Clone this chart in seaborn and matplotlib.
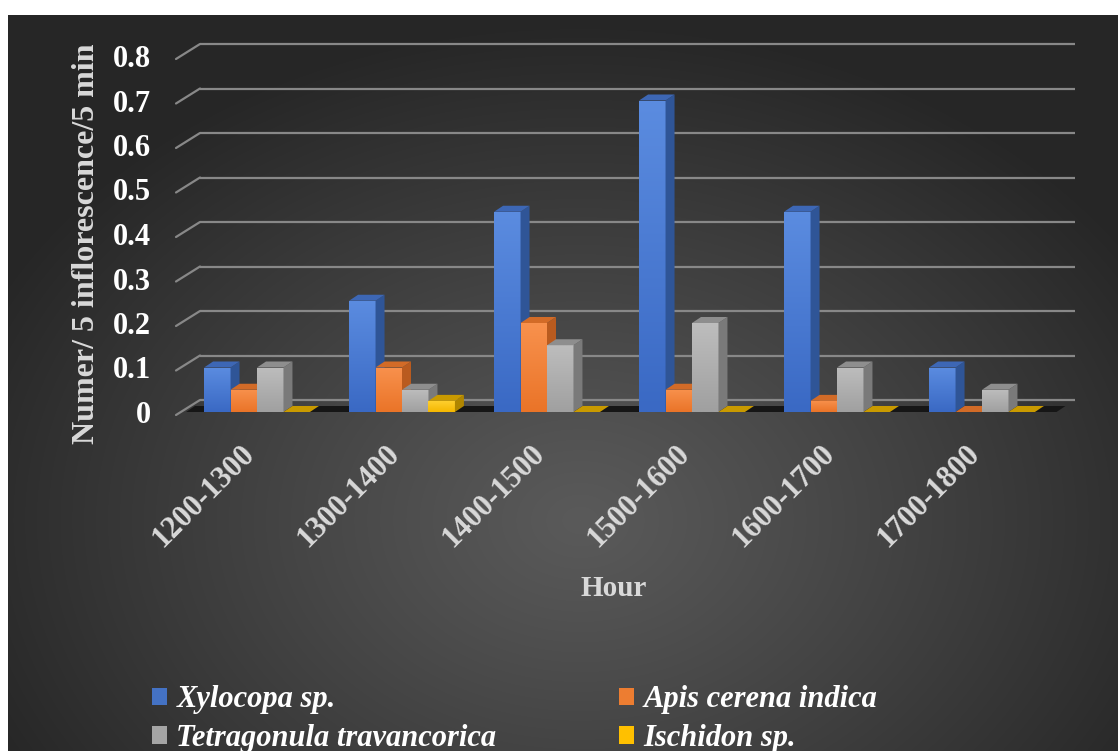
import numpy as np
import pandas as pd
import matplotlib
matplotlib.use("Agg")
import matplotlib.pyplot as plt
import matplotlib.transforms as mtransforms
from matplotlib.patches import Polygon, Patch
from matplotlib.colors import to_rgb
import seaborn as sns

# ---- data -------------------------------------------------------------
hours = ["1200-1300", "1300-1400", "1400-1500", "1500-1600", "1600-1700", "1700-1800"]
species = ["Xylocopa sp.", "Apis cerena indica", "Tetragonula travancorica", "Ischidon sp."]
xylocopa = [0.10, 0.25, 0.45, 0.70, 0.45, 0.10]
apis = [0.05, 0.10, 0.20, 0.05, 0.025, 0.0]
tetragonula = [0.10, 0.05, 0.15, 0.20, 0.10, 0.05]
ischidon = [0.0, 0.025, 0.0, 0.0, 0.0, 0.0]
y_ticks = [0, 0.1, 0.2, 0.3, 0.4, 0.5, 0.6, 0.7, 0.8]
y_tick_labels = ["0", "0.1", "0.2", "0.3", "0.4", "0.5", "0.6", "0.7", "0.8"]

front_colors = ["#4472C4", "#ED7D31", "#A5A5A5", "#FFC000"]
front_tops = ["#5B8CE0", "#F8914D", "#BDBDBD", "#FFD033"]
front_bottoms = ["#3A69C4", "#EA7428", "#A0A0A0", "#F5B800"]
side_colors = ["#2F5597", "#B95B1F", "#7A7A7A", "#B08600"]
top_colors = ["#3D67B5", "#D26B27", "#8E8E8E", "#C99A00"]

df = pd.DataFrame({
    "Hour": np.repeat([hours], 4, axis=0).ravel(),
    "Species": np.repeat(species, len(hours)),
    "Value": np.concatenate([xylocopa, apis, tetragonula, ischidon]),
})

# ---- figure -----------------------------------------------------------
W, H = 1118, 751
fig = plt.figure(figsize=(W / 100, H / 100), dpi=100)
fig.patch.set_facecolor("white")

# dark panel with radial gradient
bg = fig.add_axes([8 / W, 0, 1 - 8 / W, (H - 15) / H])
bg.set_axis_off()
yy, xx = np.mgrid[0:H - 15, 0:W - 8]
cx, cy = 572, 505
r = np.sqrt(((xx - cx) / 660.0) ** 2 + ((yy - cy) / 500.0) ** 2)
r = np.clip(r, 0, 1) ** 1.1
c_in = np.array(to_rgb("#5a5a5a"))
c_out = np.array(to_rgb("#262626"))
img = c_in[None, None, :] * (1 - r[..., None]) + c_out[None, None, :] * r[..., None]
bg.imshow(img, aspect="auto", interpolation="bilinear")

sns.set_style("white")
serif = ["Liberation Serif", "DejaVu Serif"]

ax_left, ax_right = 184.5, 1054.5
ax_bot, ax_top = 412, 56
ax = fig.add_axes([ax_left / W, (H - ax_bot) / H, (ax_right - ax_left) / W, (ax_bot - ax_top) / H])
ax.set_facecolor("none")

sns.barplot(data=df, x="Hour", y="Value", hue="Species", order=hours, hue_order=species,
            palette=dict(zip(species, front_colors)), width=0.73, gap=0, saturation=1,
            errorbar=None, legend=False, linewidth=0, ax=ax)

xlim = (-0.5, len(hours) - 0.5)
ylim = (0, 0.8)
for s in ax.spines.values():
    s.set_visible(False)

# pixel -> data unit conversion for the pseudo-3D offsets
sx = (len(hours)) / (ax_right - ax_left)
sy = 0.8 / (ax_bot - ax_top)

# back wall gridlines and the diagonal wall edges
grid_c = "#888888"
back_dx, back_dy = 15.5, 12
front_dx, front_dy = -8.5, -3
for v in y_ticks:
    ax.plot([-0.5 + back_dx * sx, len(hours) - 0.5 + 20.5 * sx], [v + back_dy * sy] * 2,
            color=grid_c, lw=1.6, zorder=1, clip_on=False, solid_capstyle="butt")
    ax.plot([-0.5 + front_dx * sx, -0.5 + back_dx * sx], [v + front_dy * sy, v + back_dy * sy],
            color=grid_c, lw=1.6, zorder=1, clip_on=False)

# floor
bdx, bdy = 9, 6
x0f, x1f = -0.5 + 1.5 * sx, len(hours) - 0.5 + 2 * sx
floor = Polygon([[x0f, 0], [x1f, 0], [x1f + bdx * sx, bdy * sy], [x0f + bdx * sx, bdy * sy]],
                closed=True, facecolor="#161616", edgecolor="none", zorder=2, clip_on=False)
ax.add_patch(floor)

# bars: depth-aware z-order, shaded front faces, side and top faces
color_idx = {tuple(np.round(to_rgb(c), 3)): i for i, c in enumerate(front_colors)}
bars = [p for p in ax.patches if p is not floor]
bars.sort(key=lambda p: p.get_x())
for k, p in enumerate(bars):
    i = color_idx[tuple(np.round(p.get_facecolor()[:3], 3))]
    x, w, h = p.get_x(), p.get_width(), p.get_height()
    z = 5 + 3 * k
    p.set_zorder(z)
    p.set_clip_on(False)
    if h > 0:
        t = np.linspace(0, 1, 64)[:, None, None]
        grad = np.array(to_rgb(front_tops[i]))[None, None, :] * (1 - t) + \
            np.array(to_rgb(front_bottoms[i]))[None, None, :] * t
        im = ax.imshow(grad, extent=[x, x + w, 0, h], aspect="auto", origin="upper",
                       interpolation="bilinear", zorder=z + 0.5)
        im.set_clip_path(p)
    side = Polygon([[x + w, 0], [x + w, h], [x + w + bdx * sx, h + bdy * sy], [x + w + bdx * sx, bdy * sy]],
                   closed=True, facecolor=side_colors[i], edgecolor="none", zorder=z + 1, clip_on=False)
    top = Polygon([[x, h], [x + w, h], [x + w + bdx * sx, h + bdy * sy], [x + bdx * sx, h + bdy * sy]],
                  closed=True, facecolor=top_colors[i], edgecolor="none", zorder=z + 2, clip_on=False)
    ax.add_patch(side)
    ax.add_patch(top)

ax.set_xlim(*xlim)
ax.set_ylim(*ylim)

# axis text
ax.set_yticks(y_ticks)
ax.set_yticklabels(y_tick_labels)
ax.tick_params(axis="y", length=0, pad=24, labelsize=22, labelcolor="white")
ax.tick_params(axis="x", length=0, pad=27, labelsize=22, labelcolor="#d9d9d9")
for lbl in ax.get_yticklabels():
    lbl.set_fontfamily(serif)
    lbl.set_fontweight("bold")
shift = mtransforms.ScaledTranslation(-7 / 100, 0, fig.dpi_scale_trans)
for lbl in ax.get_xticklabels():
    lbl.set_fontfamily(serif)
    lbl.set_fontweight("bold")
    lbl.set_rotation(45)
    lbl.set_rotation_mode("anchor")
    lbl.set_ha("right")
    lbl.set_va("center")
    lbl.set_transform(lbl.get_transform() + shift)

ax.set_xlabel("Hour", fontsize=21, fontweight="bold", color="#d9d9d9", family=serif)
ax.xaxis.set_label_coords((614 - ax_left) / (ax_right - ax_left), (ax_bot - 589) / (ax_bot - ax_top))
ax.xaxis.label.set_va("center")
ax.set_ylabel("Numer/ 5 inflorescence/5 min", fontsize=23, fontweight="bold", color="#d9d9d9", family=serif)
ax.yaxis.set_label_coords((87 - ax_left) / (ax_right - ax_left), (ax_bot - 244) / (ax_bot - ax_top))
ax.yaxis.label.set_va("center")

# legend, laid out row by row
order = [0, 2, 1, 3]
handles = [Patch(facecolor=front_colors[i], edgecolor="none") for i in order]
labels = [species[i] for i in order]
leg = fig.legend(handles, labels, ncol=2, loc="center left", bbox_to_anchor=(152 / W, 1 - 719 / H),
                 frameon=False, handlelength=0.5, handleheight=0.5, handletextpad=0.3,
                 columnspacing=4.0, labelspacing=0.32, borderpad=0, borderaxespad=0,
                 prop={"family": serif, "style": "italic", "weight": "bold", "size": 22})
for t in leg.get_texts():
    t.set_color("white")

fig.savefig("out.png", dpi=100)
